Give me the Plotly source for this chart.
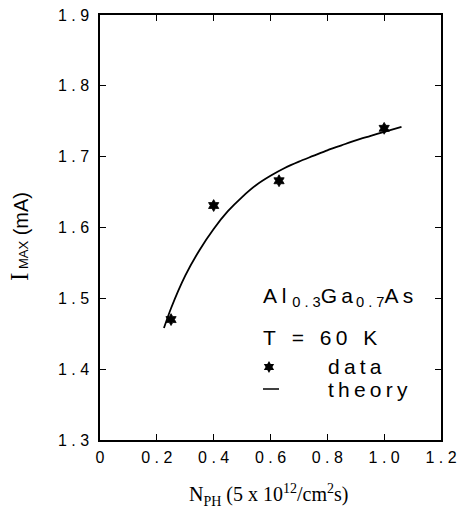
import plotly.graph_objects as go

# data
data_x = [0.25, 0.40, 0.63, 1.00]
data_y = [1.470, 1.631, 1.666, 1.740]

theory_x = [0.225, 0.25, 0.30, 0.35, 0.40, 0.45, 0.50, 0.55, 0.60, 0.65,
            0.70, 0.75, 0.80, 0.85, 0.90, 0.95, 1.00, 1.061]
theory_y = [1.458, 1.486, 1.532, 1.568, 1.598, 1.623, 1.643, 1.660, 1.673, 1.684,
            1.693, 1.701, 1.709, 1.716, 1.723, 1.729, 1.735, 1.742]

x_ticks = [0, 0.2, 0.4, 0.6, 0.8, 1.0, 1.2]
x_ticklabels = ["0", "0 . 2", "0 . 4", "0 . 6", "0 . 8", "1 . 0", "1 . 2"]
y_ticks = [1.3, 1.4, 1.5, 1.6, 1.7, 1.8, 1.9]
y_ticklabels = ["1 . 3", "1 . 4", "1 . 5", "1 . 6", "1 . 7", "1 . 8", "1 . 9"]

W, H = 459, 515
L, R, T, B = 100, 441, 15, 440


def px(xp):
    return (xp - L) / (R - L)


def py(yp):
    return (B - yp) / (B - T)


fig = go.Figure()
fig.add_trace(go.Scatter(x=theory_x, y=theory_y, mode="lines",
                         line=dict(color="black", width=1.8, shape="spline", smoothing=0.7),
                         showlegend=False, hoverinfo="skip"))
fig.add_trace(go.Scatter(x=data_x, y=data_y, mode="markers",
                         marker=dict(symbol="hexagram", size=9, color="black",
                                     line=dict(color="black", width=0.8)),
                         showlegend=False))

tickfont = dict(family="Liberation Sans", size=16, color="black")
axis_common = dict(showline=True, linecolor="black", linewidth=1.5, mirror="ticks",
                   ticks="inside", ticklen=6, tickwidth=1.2, tickcolor="black",
                   showgrid=False, zeroline=False, tickfont=tickfont, automargin=False)

fig.update_layout(
    width=W, height=H,
    margin=dict(l=L, r=W - R, t=T, b=H - B, autoexpand=False),
    paper_bgcolor="white", plot_bgcolor="white",
    xaxis=dict(range=[0, 1.2], tickvals=x_ticks, ticktext=x_ticklabels, ticklabelstandoff=2,
               **axis_common),
    yaxis=dict(range=[1.3, 1.9], tickvals=y_ticks, ticktext=y_ticklabels, ticklabelstandoff=6,
               **axis_common),
)

ts = "\u2009"
ann_font = dict(family="Liberation Sans", size=21, color="black")
annotations = [
    dict(x=px(261), y=py(297), text="A l <sub>0 . 3</sub>G" + ts + "a<sub>" + ts + "0 . 7</sub>A" + ts + "s",
         xanchor="left", yanchor="middle", font=ann_font),
    dict(x=px(261), y=py(337), text="T\u00a0\u00a0" + ts + "=\u00a0\u00a0" + ts + "6" + ts + "0\u00a0\u00a0" + ts + "K",
         xanchor="left", yanchor="middle", font=ann_font),
    dict(x=px(326), y=py(366), text=ts.join("data"),
         xanchor="left", yanchor="middle", font=ann_font),
    dict(x=px(326), y=py(389), text=ts.join("theory"),
         xanchor="left", yanchor="middle", font=ann_font),
    dict(x=px(268), y=py(495), text="N<sub>PH</sub> (5 x 10<sup>12</sup>/cm<sup>2</sup>s)",
         xanchor="center", yanchor="middle",
         font=dict(family="Liberation Serif", size=20, color="black")),
    dict(x=px(19), y=py(237),
         text='<span style="font-family:Liberation Serif;font-size:25px">I</span>'
              '<span style="font-size:13px"> MAX</span> (mA)',
         textangle=-90, xanchor="center", yanchor="middle",
         font=dict(family="Liberation Sans", size=20, color="black")),
]
for a in annotations:
    a.update(xref="paper", yref="paper", showarrow=False)
fig.update_layout(annotations=annotations)

# legend symbols
fig.add_trace(go.Scatter(x=[(269 - L) / (R - L) * 1.2], y=[1.9 - (367 - T) / (B - T) * 0.6],
                         mode="markers",
                         marker=dict(symbol="hexagram", size=9, color="black"),
                         showlegend=False, hoverinfo="skip"))
fig.add_shape(type="line", xref="paper", yref="paper",
              x0=px(263), x1=px(279), y0=py(389), y1=py(389),
              line=dict(color="black", width=1.5))

fig.write_html("out.html", config={"displayModeBar": False},
               post_script="document.body.style.margin='0';document.body.style.padding='0';")
